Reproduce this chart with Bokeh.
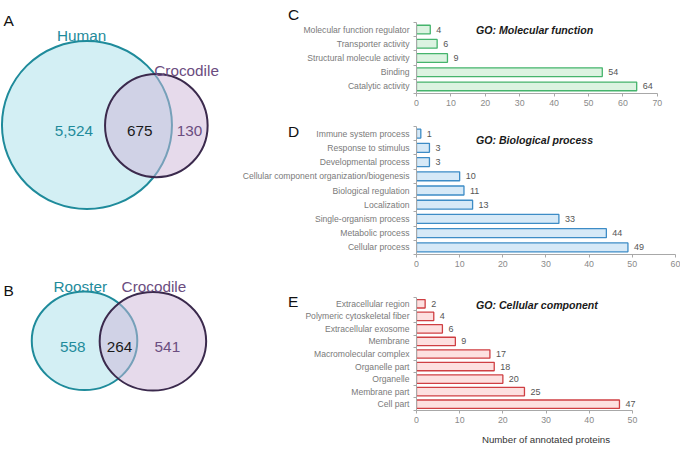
from bokeh.plotting import figure
from bokeh.models import Range1d, FixedTicker, Label, ColumnDataSource
from bokeh.layouts import row, column
from bokeh.embed import file_html
from bokeh.resources import INLINE
from bokeh.core.properties import value

# ---------------- data ----------------
venn_a_names = ["Human", "Crocodile"]
venn_a_counts = [5524, 675, 130]          # only human, shared, only crocodile
venn_b_names = ["Rooster", "Crocodile"]
venn_b_counts = [558, 264, 541]           # only rooster, shared, only crocodile

mf_categories = ["Catalytic activity", "Binding", "Structural molecule activity",
                 "Transporter activity", "Molecular function regulator"]
mf_values = [64, 54, 9, 6, 4]
mf_ticks = [0, 10, 20, 30, 40, 50, 60, 70]

bp_categories = ["Cellular process", "Metabolic process", "Single-organism process",
                 "Localization", "Biological regulation",
                 "Cellular component organization/biogenesis",
                 "Developmental process", "Response to stimulus", "Immune system process"]
bp_values = [49, 44, 33, 13, 11, 10, 3, 3, 1]
bp_ticks = [0, 10, 20, 30, 40, 50, 60]

cc_categories = ["Cell part", "Membrane part", "Organelle", "Organelle part",
                 "Macromolecular complex", "Membrane", "Extracellular exosome",
                 "Polymeric cytoskeletal fiber", "Extracellular region"]
cc_values = [47, 25, 20, 18, 17, 9, 6, 4, 2]
cc_ticks = [0, 10, 20, 30, 40, 50]

panel_titles = ["GO: Molecular function", "GO: Biological process", "GO: Cellular component"]
x_axis_title = "Number of annotated proteins"

# ---------------- style / layout ----------------
FONT = "Liberation Sans"
SX = 680 / 696
SY = 447 / 463
VENN_W = 228
RIGHT_W = 452
FRAME_L = 188
FRAME_W = 259
AXIS_C = "#a8a8a8"
TEAL = "#1f8b9b"
PURPLE = "#6b4d80"
TEAL_FILL = "#d3eff4"
PURPLE_FILL = "#cdb6d8"
PURPLE_LINE = "#3b2a4d"


def make_venn():
    p = figure(width=VENN_W, height=447, x_range=Range1d(0, VENN_W / SX),
               y_range=Range1d(447 / SY, 0), x_axis_location=None, y_axis_location=None,
               toolbar_location=None, output_backend="svg", min_border=0,
               outline_line_color=None)
    p.grid.visible = False

    # geometry in reference pixels: (cx, cy, w, h)
    geoms = [
        ((88.5, 129.0, 174, 174), (159.5, 129.5, 105, 107)),
        ((86.0, 352.5, 108, 102), (156.0, 353.0, 109, 102)),
    ]
    for left, right in geoms:
        p.ellipse(x=[left[0]], y=[left[1]], width=[left[2]], height=[left[3]],
                  fill_color=TEAL_FILL, line_color=TEAL, line_width=2)
        p.ellipse(x=[right[0]], y=[right[1]], width=[right[2]], height=[right[3]],
                  fill_color=PURPLE_FILL, fill_alpha=0.5, line_color=None)
        p.ellipse(x=[right[0]], y=[right[1]], width=[right[2]], height=[right[3]],
                  fill_color=None, line_color=PURPLE_LINE, line_width=2)

    texts = (venn_a_names + [f"{c:,}" for c in venn_a_counts]
             + venn_b_names + [f"{c:,}" for c in venn_b_counts])
    xs = [83, 190.5, 75, 142.5, 193.5, 81.7, 157, 74, 121.7, 170.8]
    ys = [36, 72.7, 135, 135, 135, 296, 296, 359, 359, 359]
    colors = [TEAL, PURPLE, TEAL, "#1a1a1a", PURPLE, TEAL, PURPLE, TEAL, "#1a1a1a", PURPLE]
    src = ColumnDataSource(dict(x=xs, y=ys, text=texts, color=colors))
    p.text(x="x", y="y", text="text", text_color="color", source=src,
           text_align="center", text_baseline="alphabetic",
           text_font=value(FONT), text_font_size="15.3px")

    p.text(x=[3, 3], y=[20.7, 300], text=["A", "B"], text_align="left",
           text_baseline="alphabetic", text_font=value(FONT), text_font_size="15.5px",
           text_color="#111111")
    return p


def make_bar(cats, vals, ticks, ref_ppu, fig_top, fig_h, border_top, frame_h,
             fill, line, bar_frac, letter, letter_ref, title, title_ref,
             xlabel=None, label_standoff=8):
    n = len(cats)
    x_end = FRAME_W / (ref_ppu * SX)
    border_right = RIGHT_W - FRAME_L - FRAME_W
    border_bottom = fig_h - border_top - frame_h
    p = figure(width=RIGHT_W, height=fig_h, x_range=Range1d(0, x_end),
               y_range=Range1d(0, 2 * n), toolbar_location=None, output_backend="svg",
               min_border_left=FRAME_L, min_border_right=border_right,
               min_border_top=border_top, min_border_bottom=border_bottom,
               outline_line_color=None)
    p.grid.visible = False

    centers = [2 * i + 1 for i in range(n)]
    src = ColumnDataSource(dict(y=centers, v=vals, lab=[str(v) for v in vals]))
    p.hbar(y="y", right="v", left=0, height=2 * bar_frac, source=src,
           fill_color=fill, line_color=line, line_width=1.3)
    p.text(x="v", y="y", text="lab", source=src, x_offset=6, text_align="left",
           text_baseline="middle", text_font=value(FONT), text_font_size="9px",
           text_color="#555555")

    yax = p.yaxis[0]
    yax.ticker = FixedTicker(ticks=centers, minor_ticks=list(range(0, 2 * n + 1, 2)))
    yax.major_label_overrides = {c: name for c, name in zip(centers, cats)}
    yax.major_tick_line_color = None
    yax.major_tick_out = 0
    yax.major_tick_in = 0
    yax.minor_tick_line_color = AXIS_C
    yax.minor_tick_out = 3
    yax.minor_tick_in = 0
    yax.axis_line_color = AXIS_C
    yax.major_label_text_font = FONT
    yax.major_label_text_font_size = "8.6px"
    yax.major_label_text_color = "#7a7a7a"
    yax.major_label_standoff = 4

    xax = p.xaxis[0]
    xax.ticker = FixedTicker(ticks=ticks)
    xax.bounds = (0, ticks[-1])
    xax.minor_tick_line_color = None
    xax.major_tick_out = 3
    xax.major_tick_in = 0
    xax.major_tick_line_color = AXIS_C
    xax.axis_line_color = AXIS_C
    xax.major_label_text_font = FONT
    xax.major_label_text_font_size = "8.8px"
    xax.major_label_text_color = "#8a8a8a"
    xax.major_label_standoff = 3
    if xlabel:
        xax.axis_label = xlabel
        xax.axis_label_text_font = FONT
        xax.axis_label_text_font_style = "normal"
        xax.axis_label_text_font_size = "9.7px"
        xax.axis_label_text_color = "#333333"
        xax.axis_label_standoff = label_standoff

    fl_ref = (VENN_W + FRAME_L) / SX
    ft_ref = (fig_top + border_top) / SY
    ppy = frame_h / (2 * n) / SY

    def to_data(X, Y):
        return (X - fl_ref) / ref_ppu, 2 * n - (Y - ft_ref) / ppy

    lx, ly = to_data(*letter_ref)
    # side panel -> not clipped to the frame
    p.add_layout(Label(x=lx, y=ly, text=letter, text_font=FONT, text_font_size="15.5px",
                       text_baseline="alphabetic", text_align="left", text_color="#111111"),
                 "left")
    tx, ty = to_data(*title_ref)
    p.add_layout(Label(x=tx, y=ty, text=title, text_font=FONT, text_font_size="10.6px",
                       text_font_style="bold italic", text_baseline="alphabetic",
                       text_align="left", text_color="#1a1a1a"))
    return p


# reference pixels per data unit for each panel
pc = make_bar(mf_categories, mf_values, mf_ticks, (672 - 425.5) / 70, 0, 114, 22, 71,
              "#dcf3e1", "#45b46c", 0.61, "C", (294.3, 15), panel_titles[0], (486.7, 30.7))
pd_ = make_bar(bp_categories, bp_values, bp_ticks, (691 - 426) / 60, 114, 161, 12, 128,
               "#d6e9f7", "#3d8cc6", 0.63, "D", (294.3, 136), panel_titles[1], (486.7, 144.5))
pe = make_bar(cc_categories, cc_values, cc_ticks, (647 - 426) / 50, 275, 172, 22, 113,
              "#fde0e0", "#cf3f43", 0.67, "E", (294.3, 311.7), panel_titles[2], (486.7, 315),
              xlabel=x_axis_title, label_standoff=8)

venn = make_venn()
layout = row(venn, column(pc, pd_, pe))
open("out.html", "w").write(file_html(layout, INLINE))
